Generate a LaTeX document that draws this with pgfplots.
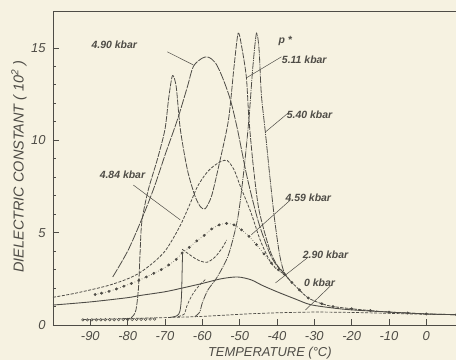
\documentclass[border=0pt]{standalone}
\usepackage{pgfplots}
\pgfplotsset{compat=1.18}
\usepackage{fontspec}
\setmainfont{Liberation Sans}
\definecolor{paper}{RGB}{246,242,225}
\definecolor{ink}{RGB}{78,76,70}
\newcommand{\tickfont}{\fontsize{13}{15}\selectfont\itshape}
\newcommand{\annfont}{\fontsize{10.5}{12}\selectfont\bfseries\itshape}
\begin{document}
\begin{tikzpicture}
\fill[paper] (-53bp,-35bp) rectangle (403bp,325bp);
\begin{axis}[
  at={(0,0)}, anchor=south west,
  scale only axis, width=410.67bp, height=314bp,
  xmin=-100, xmax=10, ymin=0, ymax=17,
  axis line style={ink, line width=0.8pt},
  every tick/.style={ink, line width=0.8pt},
  tick align=inside,
  xtick pos=lower, ytick pos=left,
  major tick length=6.5bp, minor tick length=3.5bp,
  xtick={-90,-80,-70,-60,-50,-40,-30,-20,-10,0},
  xticklabels={-90,-80,-70,-60,-50,-40,-30,-20,-10,0},
  ytick={0,5,10,15}, yticklabels={0,5,10,15},
  minor y tick num=4,
  ticklabel style={font=\tickfont, text=ink},
  yticklabel style={xshift=-4bp},
  xticklabel style={yshift=-3bp},
  every axis x label/.style={at={(axis description cs:0.528,-0.0892)}, anchor=center},
  every axis y label/.style={at={(axis description cs:-0.0828,0.505)}, rotate=90, anchor=center},
  xlabel={\tickfont TEMPERATURE (°C)},
  ylabel={\fontsize{14.5}{16}\selectfont\itshape DIELECTRIC CONSTANT ( 10\textsuperscript{2} )},
  label style={text=ink},
  clip=false,
]
% 0 kbar
\addplot[ink, line width=0.7pt, dash pattern=on 3pt off 1.5pt, smooth] coordinates {
(-92,0.3) (-85,0.32) (-80,0.35) (-70,0.4) (-62,0.45) (-55,0.52) (-48,0.6) (-40,0.66) (-30,0.7) (-20,0.68) (-10,0.63) (0,0.58) (10,0.55)};
\addplot[ink, only marks, mark=o, mark size=1.3pt, mark options={line width=0.5pt}] coordinates {
(-92,0.28) (-90.8,0.28) (-89.6,0.28) (-88.4,0.28) (-87.2,0.28) (-86,0.29) (-84.8,0.29) (-83.6,0.29) (-82.4,0.29) (-81.2,0.3) (-80,0.3) (-78.8,0.3) (-77.6,0.31) (-76.4,0.31) (-75.2,0.31) (-74,0.32) (-72.8,0.32)};
% 2.90 kbar
\addplot[ink, line width=0.9pt, smooth] coordinates {
(-100,1.08) (-90,1.25) (-80,1.48) (-76.6,1.6) (-70,1.8) (-65.4,2.0) (-60,2.25) (-55,2.5) (-50.6,2.6) (-47,2.45) (-44,2.15) (-40,1.8) (-35,1.4) (-31,1.1) (-25,0.92) (-20,0.82) (-10,0.7) (0,0.6) (10,0.55)};
% 4.84 kbar
\addplot[ink, line width=0.8pt, dash pattern=on 3pt off 1.5pt, smooth] coordinates {
(-100,1.5) (-95,1.68) (-90,1.9) (-85,2.15) (-80,2.5) (-76.6,2.85) (-73,3.4) (-70,4.0) (-67.5,4.8) (-65.4,5.6) (-63,6.7) (-61.3,7.5) (-59,8.2) (-57,8.6) (-55,8.85) (-53.3,8.9) (-51.5,8.4) (-49.8,7.5) (-47,6.1) (-44.5,4.6) (-42,3.5) (-40,3.0) (-38,2.75) (-36,2.3) (-34,1.9) (-31.6,1.46) (-28,1.15) (-25,1.0) (-20,0.88) (-15,0.78) (-10,0.7) (-5,0.65) (0,0.6) (10,0.55)};
\addplot[ink, line width=0.8pt, dash pattern=on 3pt off 1.5pt, smooth] coordinates {
(-65.4,4.1) (-63,3.75) (-61,3.5) (-58.7,3.4) (-56.5,3.7) (-54.6,4.2) (-53.5,4.6)};
% 4.59 kbar
\addplot[ink, line width=0.6pt, dotted, smooth, mark=*, mark size=1.1pt, mark options={solid}] coordinates {
(-88.7,1.65) (-87,1.72) (-85,1.82) (-83,1.95) (-81,2.1) (-79,2.25) (-77,2.42) (-75,2.6) (-73,2.8) (-71,3.0) (-69,3.25) (-67,3.55) (-65.4,3.9) (-63.5,4.2) (-61.5,4.55) (-59.5,4.85) (-57.5,5.2) (-55.5,5.42) (-53.5,5.5) (-51.5,5.42) (-49.5,5.15) (-47.5,4.8) (-45.5,4.35) (-43.5,3.85) (-41.5,3.35) (-39.6,3.0) (-38,2.75) (-36,2.3) (-34,1.9) (-31.6,1.46) (-28,1.15) (-25,1.0) (-20,0.88) (-15,0.78) (-10,0.7) (-5,0.65) (0,0.6) (8,0.56)};
\addplot[ink, line width=0.8pt, smooth] coordinates {
(-69,0.4) (-66.8,0.5) (-66,0.75) (-65.6,1.5) (-65.4,3.0) (-65.3,3.9)};
% onsets near -64 and -60
\addplot[ink, line width=0.7pt, dash pattern=on 3pt off 1.5pt, smooth] coordinates {
(-66.5,0.45) (-64.8,0.6) (-64.2,1.0) (-62.8,1.6) (-61,2.1) (-59,2.5)};
% 5.40 kbar
\addplot[ink, line width=0.8pt, dash pattern=on 7pt off 1pt on 1pt off 1pt, smooth, tension=0.45] coordinates {
(-62,0.45) (-60.7,0.7) (-60,1.2) (-58.5,1.9) (-56,2.6) (-53,3.8) (-50.5,5.8) (-48.8,8.5) (-47.5,11.2) (-46.5,13.9) (-45.5,15.8) (-44.8,14.9) (-44.2,12.5) (-43.1,10.4) (-42,8.2) (-40.7,5.8) (-39.3,3.8) (-38,2.8) (-36,2.3)};
% 5.11 kbar (double peak)
\addplot[ink, line width=0.8pt, dash pattern=on 6pt off 1.2pt, smooth, tension=0.45] coordinates {
(-81,0.33) (-79,0.4) (-77.8,0.8) (-77.1,2.0) (-76.7,3.8) (-76.2,5.6) (-74.5,7.3) (-72,9.0) (-70,10.6) (-69,12.3) (-68,13.5) (-67,12.9) (-65.9,10.6) (-64,8.4) (-62,7.0) (-60.5,6.4) (-59.2,6.3) (-57.5,7.0) (-55.5,8.7) (-53,11.1) (-51.5,14.0) (-50.4,15.8) (-49.4,15.0) (-48.2,13.4) (-47.5,11.1) (-46.3,8.5) (-44.8,6.2) (-42,4.1) (-40,3.25) (-38,2.8)};
% 4.90 kbar (broad peak)
\addplot[ink, line width=0.8pt, dash pattern=on 9pt off 1.2pt, smooth, tension=0.5] coordinates {
(-84,2.6) (-80,4.0) (-76.5,5.6) (-73,7.4) (-70,9.2) (-66.7,11.1) (-64,12.9) (-62.4,14.0) (-60,14.45) (-58.4,14.5) (-56.5,14.2) (-54.6,13.4) (-52.5,12.2) (-50.6,10.6) (-48,8.0) (-45,5.6) (-42,3.9) (-40,3.2) (-38,2.8)};
% labels and leaders
\node[ink, font=\annfont] at (axis cs:-83.6,15.17) {4.90 kbar};
\draw[ink, line width=0.5pt] (axis cs:-69.4,14.79) -- (axis cs:-62.4,14.08);
\node[ink, font=\annfont] at (axis cs:-37.8,15.39) {p *};
\node[ink, font=\annfont] at (axis cs:-32.7,14.35) {5.11 kbar};
\draw[ink, line width=0.5pt] (axis cs:-38.8,14.52) -- (axis cs:-48.2,13.38);
\node[ink, font=\annfont] at (axis cs:-31.3,11.38) {5.40 kbar};
\draw[ink, line width=0.5pt] (axis cs:-37,11.48) -- (axis cs:-43.1,10.45);
\node[ink, font=\annfont] at (axis cs:-81.4,8.13) {4.84 kbar};
\draw[ink, line width=0.5pt] (axis cs:-78.5,7.58) -- (axis cs:-65.9,5.69);
\node[ink, font=\annfont] at (axis cs:-31.6,6.88) {4.59 kbar};
\draw[ink, line width=0.5pt] (axis cs:-36.4,6.77) -- (axis cs:-46.9,4.88);
\node[ink, font=\annfont] at (axis cs:-27.0,3.79) {2.90 kbar};
\draw[ink, line width=0.5pt] (axis cs:-31.6,3.68) -- (axis cs:-40.4,2.28);
\node[ink, font=\annfont] at (axis cs:-28.6,2.28) {0 kbar};
\draw[ink, line width=0.5pt] (axis cs:-25.4,2.17) -- (axis cs:-32.4,0.81);
\end{axis}
\pgfresetboundingbox
\useasboundingbox (-53bp,-35bp) rectangle (403bp,325bp);
\end{tikzpicture}
\end{document}
